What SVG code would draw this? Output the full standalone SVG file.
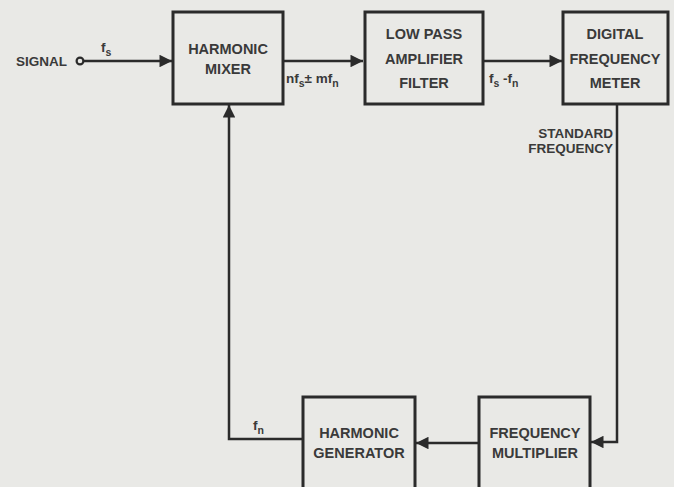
<svg xmlns="http://www.w3.org/2000/svg" width="674" height="487" viewBox="0 0 674 487">
<style>
.box{fill:none;stroke:#2b2b2b;stroke-width:3}
.ln{fill:none;stroke:#2b2b2b;stroke-width:2.5}
.t{font-family:"Liberation Sans",Arial,sans-serif;font-size:14.5px;font-weight:bold;fill:#3a3a3a;text-anchor:middle}
.l{font-family:"Liberation Sans",Arial,sans-serif;font-size:13.5px;font-weight:bold;fill:#3a3a3a}
</style>
<defs>
<marker id="ah" viewBox="0 0 10 10" refX="10" refY="5" markerWidth="5.2" markerHeight="5" orient="auto" markerUnits="strokeWidth">
<path d="M0,0 L10,5 L0,10 z" fill="#2b2b2b"/>
</marker>
</defs>
<rect width="674" height="487" fill="#e9e9e6"/>
<g id="connectors">
<circle cx="80" cy="61" r="3.4" fill="none" stroke="#2b2b2b" stroke-width="2.2"/>
<line class="ln" x1="83.5" y1="61" x2="172" y2="61" marker-end="url(#ah)"/>
<line class="ln" x1="284" y1="61" x2="363" y2="61" marker-end="url(#ah)"/>
<line class="ln" x1="484" y1="61" x2="562" y2="61" marker-end="url(#ah)"/>
<polyline class="ln" points="617,105 617,442 591,442" marker-end="url(#ah)"/>
<line class="ln" x1="478" y1="443" x2="416" y2="443" marker-end="url(#ah)"/>
<polyline class="ln" points="302,439 229,439 229,105" marker-end="url(#ah)"/>
</g>
<g id="labels">
<text class="l" x="16" y="66">SIGNAL</text>
<text class="l" x="101" y="52">f<tspan font-size="10.5" dy="4">s</tspan></text>
<text class="l" x="286" y="83">nf<tspan font-size="10.5" dy="4">s</tspan><tspan dy="-4">± mf</tspan><tspan font-size="10.5" dy="4">n</tspan></text>
<text class="l" x="489" y="83">f<tspan font-size="10.5" dy="4">s</tspan><tspan dy="-4"> -f</tspan><tspan font-size="10.5" dy="4">n</tspan></text>
<text class="l" x="613" y="138" text-anchor="end">STANDARD</text>
<text class="l" x="613" y="153" text-anchor="end">FREQUENCY</text>
<text class="l" x="253" y="430">f<tspan font-size="10.5" dy="4">n</tspan></text>
</g>
<g id="harmonic-mixer">
<rect class="box" x="173" y="12" width="110" height="92"/>
<text class="t" x="228" y="54">HARMONIC</text>
<text class="t" x="228" y="74">MIXER</text>
</g>
<g id="low-pass-amplifier-filter">
<rect class="box" x="365" y="12" width="118" height="92"/>
<text class="t" x="424" y="39">LOW  PASS</text>
<text class="t" x="424" y="64">AMPLIFIER</text>
<text class="t" x="424" y="88">FILTER</text>
</g>
<g id="digital-frequency-meter">
<rect class="box" x="563" y="12" width="105" height="92"/>
<text class="t" x="615" y="39">DIGITAL</text>
<text class="t" x="615" y="64">FREQUENCY</text>
<text class="t" x="615" y="88">METER</text>
</g>
<g id="frequency-multiplier">
<rect class="box" x="479" y="397" width="111" height="100"/>
<text class="t" x="535" y="438">FREQUENCY</text>
<text class="t" x="535" y="458">MULTIPLIER</text>
</g>
<g id="harmonic-generator">
<rect class="box" x="303" y="397" width="112" height="100"/>
<text class="t" x="359" y="438">HARMONIC</text>
<text class="t" x="359" y="458">GENERATOR</text>
</g>
</svg>
